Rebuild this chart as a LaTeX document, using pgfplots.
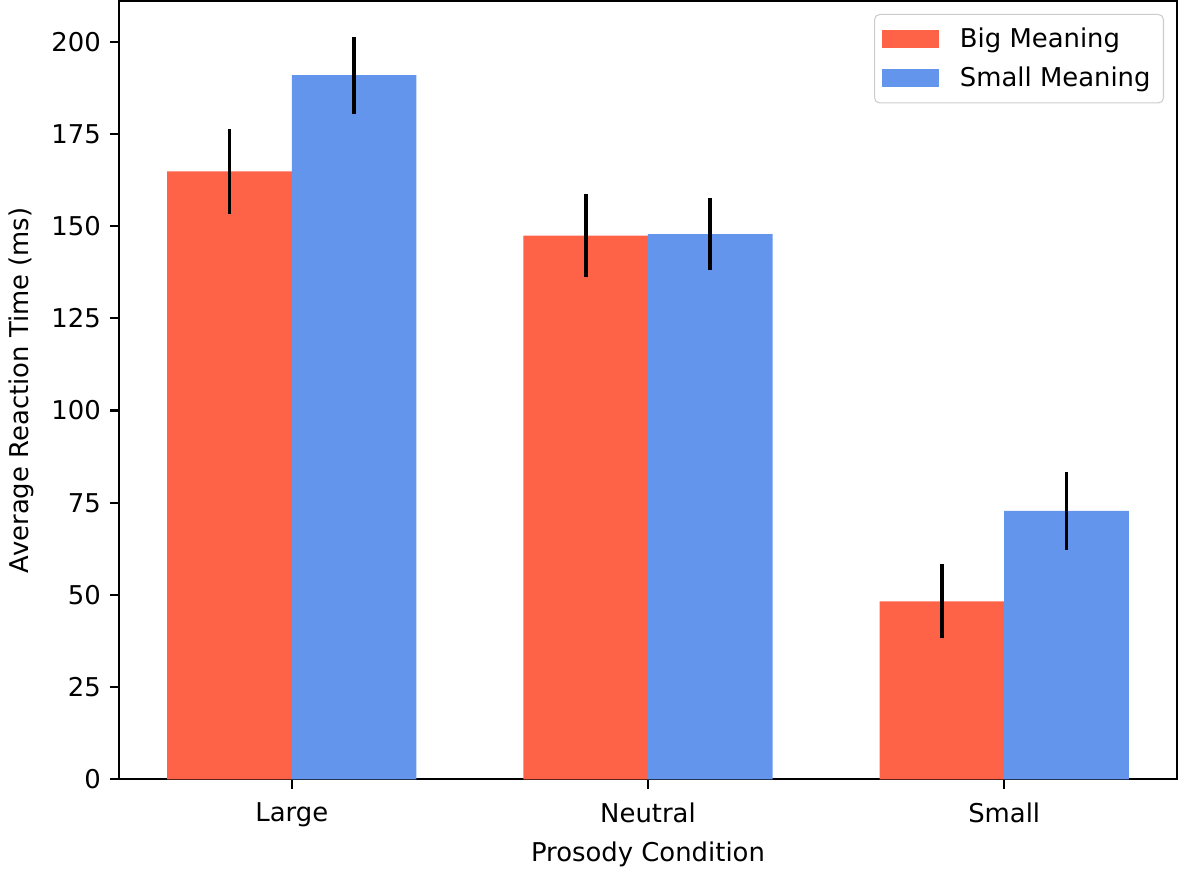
\documentclass[border=0pt]{standalone}
\usepackage{pgfplots}
\pgfplotsset{compat=1.18}
\usepackage{fontspec}
\setmainfont{DejaVu Sans}
\definecolor{tomato}{HTML}{FF6347}
\definecolor{cfblue}{HTML}{6495ED}
\begin{document}
\begin{tikzpicture}
\begin{axis}[
  scale only axis, width=408.8pt, height=300.8pt,
  xmin=-0.485, xmax=2.485, ymin=0, ymax=211,
  xtick={0,1,2}, xticklabels={Large,Neutral,Small},
  ytick={0,25,...,200},
  tick align=outside, major tick length=3.5pt,
  xtick pos=bottom, ytick pos=left,
  axis line style={line width=0.8pt},
  tick style={line width=0.8pt, black},
  /pgf/number format/assume math mode=true,
  ticklabel style={font=\fontsize{10}{12}\selectfont},
  xticklabel style={yshift=-2pt},
  xlabel={Prosody Condition}, ylabel={Average Reaction Time (ms)},
  label style={font=\fontsize{10}{12}\selectfont},
  xlabel style={yshift=1pt},
  legend style={at={(1,1)}, anchor=north east, xshift=-5pt, yshift=-5pt,
    draw=black!20, rounded corners=2pt, font=\fontsize{10}{12}\selectfont,
    inner xsep=3pt, inner ysep=3pt, row sep=2pt},
  legend cell align=left,
  ybar, bar width=0.35,
]
\addlegendimage{legend image code/.code={\fill[tomato, draw=none, sharp corners] (0pt,-3.5pt) rectangle (22pt,3.5pt); \path[draw=none, fill=none] (0pt,0pt) -- (28pt,0pt);}}
\addlegendentry{Big Meaning}
\addlegendimage{legend image code/.code={\fill[cfblue, draw=none, sharp corners] (0pt,-3.5pt) rectangle (22pt,3.5pt); \path[draw=none, fill=none] (0pt,0pt) -- (28pt,0pt);}}
\addlegendentry{Small Meaning}
\addplot[fill=tomato, draw=none, bar shift=-0.175, forget plot,
  error bars/.cd, y dir=both, y explicit, error mark=none,
  error bar style={line width=1.5pt, black}]
  coordinates {(0,164.8) +- (0,11.5) (1,147.4) +- (0,11.3) (2,48.3) +- (0,10.0)};
\addplot[fill=cfblue, draw=none, bar shift=0.175, forget plot,
  error bars/.cd, y dir=both, y explicit, error mark=none,
  error bar style={line width=1.5pt, black}]
  coordinates {(0,190.9) +- (0,10.4) (1,147.8) +- (0,9.8) (2,72.8) +- (0,10.5)};
\end{axis}
\end{tikzpicture}
\end{document}
